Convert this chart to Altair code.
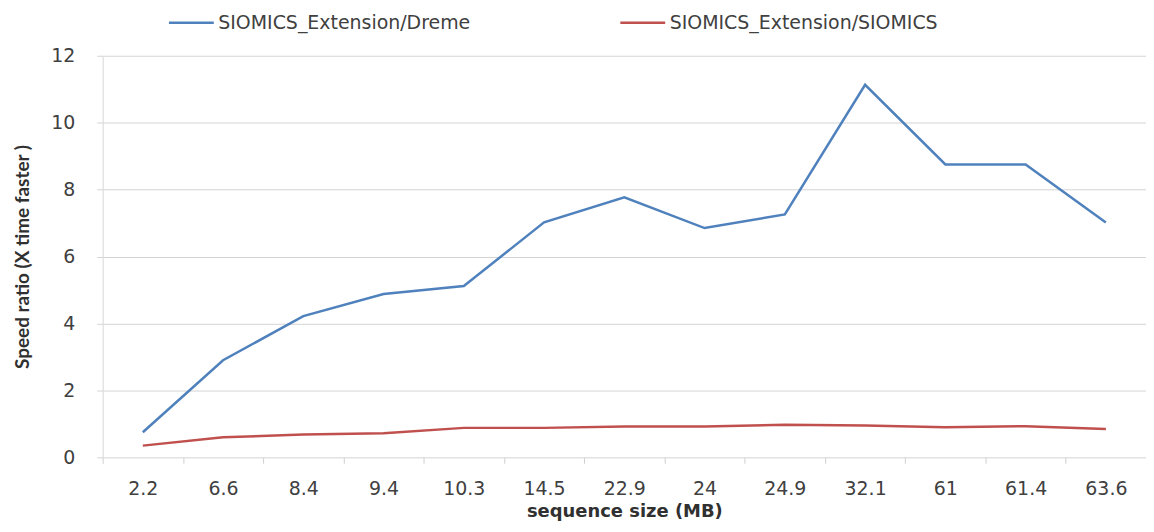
import altair as alt
import pandas as pd

sizes = ["2.2", "6.6", "8.4", "9.4", "10.3", "14.5", "22.9", "24", "24.9", "32.1", "61", "61.4", "63.6"]
dreme = [0.75, 2.9, 4.22, 4.88, 5.12, 7.02, 7.77, 6.85, 7.26, 11.13, 8.75, 8.75, 7.02]
siomics = [0.35, 0.6, 0.68, 0.72, 0.88, 0.88, 0.92, 0.92, 0.97, 0.95, 0.9, 0.93, 0.85]
series_names = ["SIOMICS_Extension/Dreme", "SIOMICS_Extension/SIOMICS"]
colors = ["#4F81BD", "#C0504D"]

rows = []
for i, s in enumerate(sizes):
    rows.append({"size": s, "order": i, "series": series_names[0], "ratio": dreme[i]})
    rows.append({"size": s, "order": i, "series": series_names[1], "ratio": siomics[i]})
df = pd.DataFrame(rows)

WIDE = "DejaVu Sans"
NARROW = "Lato"

chart = alt.Chart(df).mark_line(strokeWidth=2.5).encode(
    x=alt.X("size:N", sort=sizes, bandPosition=0.5,
            scale=alt.Scale(type="band", paddingInner=0, paddingOuter=0),
            axis=alt.Axis(title="sequence size (MB)", labelAngle=0, tickBand="extent",
                          grid=False, domain=False, ticks=True, tickColor="#d0d0d0",
                          tickSize=6, labelFontSize=19, labelColor="#404040",
                          labelPadding=16, titleFontSize=18, titleFontWeight="bold",
                          titleColor="#303030", titlePadding=4, labelFont=WIDE, titleFont=WIDE,
                          labelLimit=0)),
    y=alt.Y("ratio:Q", scale=alt.Scale(domain=[0, 12], nice=False),
            axis=alt.Axis(title="Speed ratio (X time faster )", values=[0, 2, 4, 6, 8, 10, 12],
                          grid=True, gridColor="#d4d4d4", domain=True, domainColor="#d8d8d8",
                          ticks=True, tickColor="#d4d4d4", tickSize=6, labelFontSize=19,
                          labelColor="#404040", labelPadding=22, titleFontSize=19,
                          titleFontWeight="bold", titleColor="#303030", titlePadding=18,
                          labelFont=WIDE, titleFont=NARROW, labelLimit=0)),
    color=alt.Color("series:N", sort=series_names,
                    scale=alt.Scale(domain=series_names, range=colors),
                    legend=alt.Legend(title=None, orient="none", legendX=65, legendY=-57,
                                      direction="horizontal", symbolType="stroke",
                                      symbolSize=2025, symbolStrokeWidth=2.5,
                                      labelFontSize=19, labelColor="#404040", labelFont=WIDE,
                                      columnPadding=144, labelOffset=3, labelLimit=0)),
    order="order:Q",
).properties(
    width=1047, height=403,
    autosize=alt.AutoSizeParams(type="none"),
    padding={"left": 95, "top": 47, "right": 0, "bottom": 66},
).configure_view(stroke=None)

chart.save("out.html", embed_options={"renderer": "svg", "actions": False})
